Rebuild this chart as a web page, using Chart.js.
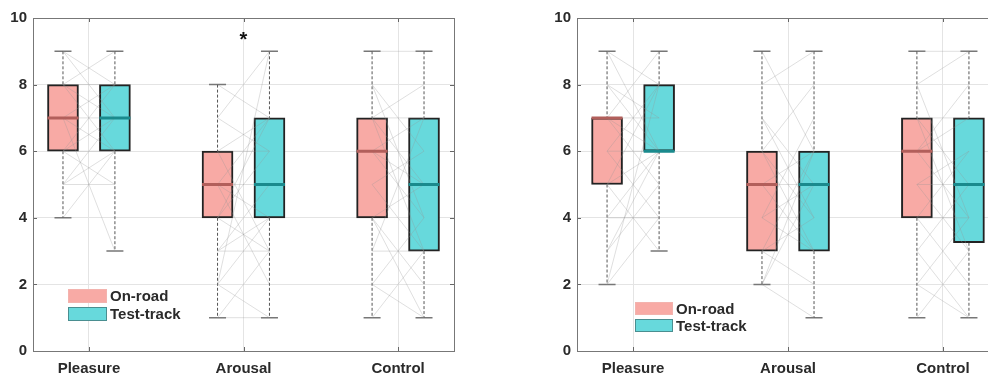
<!DOCTYPE html>
<html>
<head>
<meta charset="utf-8">
<script src="https://cdn.jsdelivr.net/npm/chart.js@4/dist/chart.umd.min.js"></script>
<style>
  html, body { margin:0; padding:0; background:#fff; }
  body { width:988px; height:374px; overflow:hidden; position:relative; }
  .panel { position:absolute; top:0; }
</style>
</head>
<body>
<div class="panel" style="left:0"><canvas id="left" width="470" height="374"></canvas></div>
<div class="panel" style="left:544px"><canvas id="right" width="471" height="374"></canvas></div>
<script>
// ===== data =====
const categories = ['Pleasure', 'Arousal', 'Control'];
const yTicks = [0, 2, 4, 6, 8, 10];
const seriesNames = ['On-road', 'Test-track'];

// per category: [min, q1, median, q3, max]
const leftOnRoad    = [[4, 6, 7, 8, 9], [1, 4, 5, 6, 8], [1, 4, 6, 7, 9]];
const leftTestTrack = [[3, 6, 7, 8, 9], [1, 4, 5, 7, 9], [1, 3, 5, 7, 9]];
const rightOnRoad    = [[2, 5, 7, 7, 9], [2, 3, 5, 6, 9], [1, 4, 6, 7, 9]];
const rightTestTrack = [[3, 6, 6, 8, 9], [1, 3, 5, 6, 9], [1, 3.25, 5, 7, 9]];

// participant pairs [on-road, test-track] per category
const leftPairs = [
  [[9,8],[8,9],[8,7],[7,8],[7,6],[6,7],[6,8],[5,6],[5,5],[4,6],[7,7],[8,8],[6,6],[7,3],[9,7],[6,5],[5,7],[8,6]],
  [[8,7],[7,9],[6,7],[6,6],[5,7],[5,5],[4,6],[4,3],[3,5],[3,3],[2,9],[2,4],[1,3],[1,1],[5,4],[6,3],[7,6],[4,7],[5,2],[3,4],[2,1]],
  [[9,9],[8,6],[8,4],[7,8],[7,7],[7,5],[6,4],[6,7],[5,6],[5,3],[4,5],[4,2],[3,3],[3,7],[2,1],[1,3],[6,5],[7,3],[4,1],[2,4]]
];
const rightPairs = [
  [[9,8],[9,6],[8,6],[7,7],[7,9],[7,5],[6,8],[6,6],[5,8],[5,6],[4,6],[4,4],[3,6],[3,5],[2,8],[2,4],[7,6],[5,3],[6,4],[8,7]],
  [[9,6],[8,9],[7,5],[6,8],[6,4],[5,6],[5,3],[4,7],[4,5],[3,6],[3,2],[2,5],[2,1],[4,3],[5,5],[3,4],[6,3],[2,6],[7,4]],
  [[9,9],[8,4],[7,7],[7,5],[6,4],[6,8],[5,6],[5,3],[4,6],[4,2],[3,5],[3,1],[2,4],[1,3],[2,1],[6,7],[7,3],[8,9],[5,5],[4,4]]
];

// significance markers [category index, y]
const leftStars = [[2, 9.45]];
const rightStars = [];

// ===== look =====
const PINK = '#f8aaa5', CYAN = '#67d9dc';
const PINK_MED = '#b25f5b', CYAN_MED = '#1a8a8d';
const TEXT = '#2a2a2a';
const OFF = 0.168, HALF = 0.1, CAP = 0.055;

Chart.defaults.font.family = "'Liberation Sans', Arial, sans-serif";
Chart.defaults.font.weight = 'bold';
Chart.defaults.color = TEXT;

function boxData(stats, sign){
  return stats.map((s, i) => ({ x: i + 1 + sign * OFF, y: [s[1], s[3]] }));
}
function whiskerData(stats, sign){
  const pts = [];
  stats.forEach((s, i) => {
    const x = i + 1 + sign * OFF;
    pts.push({x, y:s[4]}, {x, y:s[3]}, {x, y:null}, {x, y:s[1]}, {x, y:s[0]}, {x, y:null});
  });
  return pts;
}
function capData(stats, sign){
  const pts = [];
  stats.forEach((s, i) => {
    const x = i + 1 + sign * OFF;
    pts.push({x:x-CAP, y:s[4]}, {x:x+CAP, y:s[4]}, {x, y:null},
             {x:x-CAP, y:s[0]}, {x:x+CAP, y:s[0]}, {x, y:null});
  });
  return pts;
}
function medianData(stats, sign){
  const pts = [];
  stats.forEach((s, i) => {
    const x = i + 1 + sign * OFF;
    pts.push({x:x-HALF, y:s[2]}, {x:x+HALF, y:s[2]}, {x, y:null});
  });
  return pts;
}
function pairData(groups){
  const pts = [];
  groups.forEach((grp, i) => grp.forEach(([a, b]) => {
    pts.push({x:i+1-OFF, y:a}, {x:i+1+OFF, y:b}, {x:i+1, y:null});
  }));
  return pts;
}

const lineBase = { type:'line', pointRadius:0, pointHoverRadius:0, spanGaps:false, tension:0, fill:false };

// frame, inner ticks, legend, stars
const decoPlugin = {
  id: 'deco',
  afterDraw(chart, args, opts){
    const {ctx, chartArea:a, scales:{x, y}} = chart;
    ctx.save();
    // inward ticks
    ctx.strokeStyle = '#666'; ctx.lineWidth = 1;
    ctx.beginPath();
    yTicks.forEach(v => {
      const py = Math.round(y.getPixelForValue(v)) + 0.5;
      ctx.moveTo(a.left, py); ctx.lineTo(a.left + 4, py);
      ctx.moveTo(a.right, py); ctx.lineTo(a.right - 4, py);
    });
    categories.forEach((c, i) => {
      const px = Math.round(x.getPixelForValue(i + 1)) + 0.5;
      ctx.moveTo(px, a.bottom); ctx.lineTo(px, a.bottom - 4);
      ctx.moveTo(px, a.top); ctx.lineTo(px, a.top + 4);
    });
    ctx.stroke();
    // frame
    ctx.strokeStyle = '#777';
    ctx.strokeRect(Math.round(a.left) + 0.5, Math.round(a.top) + 0.5,
                   Math.round(a.right - a.left), Math.round(a.bottom - a.top));
    // stars
    ctx.fillStyle = '#111';
    ctx.font = "bold 20px 'Liberation Sans', Arial, sans-serif";
    ctx.textAlign = 'center'; ctx.textBaseline = 'middle';
    (opts.stars || []).forEach(([c, v]) => {
      ctx.fillText('*', x.getPixelForValue(c), y.getPixelForValue(v) + 4);
    });
    // legend
    const L = opts.legend;
    const colors = [[PINK, '#f3b3ae'], [CYAN, '#4a8e90']];
    ctx.font = "bold 15px 'Liberation Sans', Arial, sans-serif";
    ctx.textAlign = 'left';
    seriesNames.forEach((name, i) => {
      const sy = L.y + i * L.gap;
      ctx.fillStyle = colors[i][0];
      ctx.fillRect(L.x, sy, L.w, L.h);
      ctx.strokeStyle = colors[i][1]; ctx.lineWidth = 1;
      ctx.strokeRect(L.x + 0.5, sy + 0.5, L.w - 1, L.h - 1);
      ctx.fillStyle = TEXT;
      ctx.fillText(name, L.x + L.w + 3, sy + L.h / 2 + 1);
    });
    ctx.restore();
  }
};

function makeChart(id, onRoad, testTrack, pairs, stars, legend){
  new Chart(document.getElementById(id), {
    type: 'scatter',
    data: {
      datasets: [
        { ...lineBase, data: medianData(onRoad, -1), borderColor: PINK_MED, borderWidth: 3, order: 0 },
        { ...lineBase, data: medianData(testTrack, 1), borderColor: CYAN_MED, borderWidth: 3, order: 0 },
        { ...lineBase, data: pairData(pairs), borderColor: 'rgba(150,150,150,0.3)', borderWidth: 1, order: 1 },
        { ...lineBase, data: whiskerData(onRoad, -1), borderColor: '#555', borderWidth: 1, borderDash: [3, 2], order: 2 },
        { ...lineBase, data: whiskerData(testTrack, 1), borderColor: '#555', borderWidth: 1, borderDash: [3, 2], order: 2 },
        { ...lineBase, data: capData(onRoad, -1), borderColor: '#777', borderWidth: 1.5, order: 2 },
        { ...lineBase, data: capData(testTrack, 1), borderColor: '#777', borderWidth: 1.5, order: 2 },
        { type: 'bar', data: boxData(onRoad, -1), backgroundColor: PINK, borderColor: '#222',
          borderWidth: 2, borderSkipped: false, grouped: false, barThickness: 31, order: 3 },
        { type: 'bar', data: boxData(testTrack, 1), backgroundColor: CYAN, borderColor: '#222',
          borderWidth: 2, borderSkipped: false, grouped: false, barThickness: 31, order: 3 }
      ]
    },
    options: {
      responsive: false,
      animation: false,
      events: [],
      layout: { padding: { top: 18, right: 16, left: 0, bottom: 0 } },
      plugins: {
        legend: { display: false },
        tooltip: { enabled: false },
        deco: { stars, legend }
      },
      scales: {
        x: {
          type: 'linear', min: 0.638, max: 3.362, bounds: 'data', offset: false,
          afterBuildTicks: s => { s.ticks = categories.map((c, i) => ({ value: i + 1 })); },
          afterFit: s => { s.height = 23; },
          ticks: { callback: (v, i) => categories[i], font: { size: 15, weight: 'bold' }, color: TEXT, padding: 9, maxRotation: 0 },
          grid: { color: '#e4e4e4', drawTicks: false, offset: false },
          border: { display: false }
        },
        y: {
          min: 0, max: 10,
          afterBuildTicks: s => { s.ticks = yTicks.map(v => ({ value: v })); },
          afterFit: s => { s.width = 33; },
          ticks: { font: { size: 15, weight: 'bold' }, color: TEXT, padding: 6 },
          grid: { color: '#e4e4e4', drawTicks: false },
          border: { display: false }
        }
      }
    },
    plugins: [decoPlugin]
  });
}

makeChart('left', leftOnRoad, leftTestTrack, leftPairs, leftStars, { x: 68, y: 289, w: 39, h: 14, gap: 18 });
makeChart('right', rightOnRoad, rightTestTrack, rightPairs, rightStars, { x: 91, y: 302, w: 38, h: 13, gap: 17 });
</script>
</body>
</html>
